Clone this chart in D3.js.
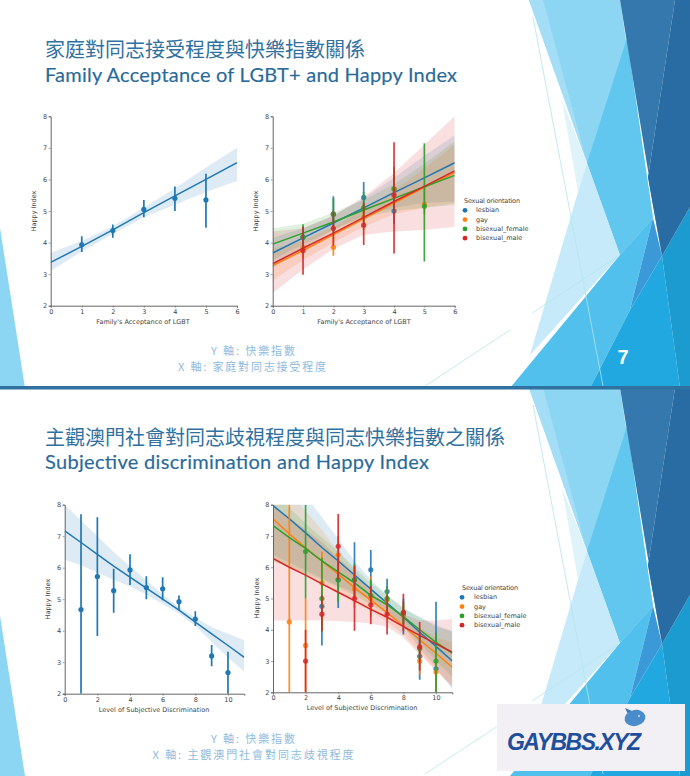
<!DOCTYPE html>
<html>
<head>
<meta charset="utf-8">
<script src="https://d3js.org/d3.v7.min.js"></script>
<style>
body { margin: 0; background: #fff; }
svg { display: block; }
.tick text { font-family: "DejaVu Sans"; font-size: 6.5px; fill: #444; }
.lab { font-family: "DejaVu Sans"; font-size: 6.5px; fill: #444; }
</style>
</head>
<body>
<svg id="chart" width="690" height="776"></svg>
<script>
// chart values
var seriesNames = ["lesbian", "gay", "bisexual_female", "bisexual_male"];
var seriesColors = ["#1f77b4", "#ff7f0e", "#2ca02c", "#d62728"];
var yTicks = [2, 3, 4, 5, 6, 7, 8];

// family acceptance, all respondents
var famX = [1, 2, 3, 4, 5];
var famY = [3.93, 4.38, 5.05, 5.4, 5.35];
var famLo = [3.7, 4.15, 4.8, 5.0, 4.47];
var famHi = [4.2, 4.57, 5.35, 5.78, 6.18];
var famFitX = [0, 1, 2, 3, 4, 5, 6];
var famFit = [3.37, 3.88, 4.4, 4.95, 5.48, 6.0, 6.53];
var famFitLo = [3.1, 3.72, 4.27, 4.8, 5.2, 5.6, 5.95];
var famFitHi = [3.68, 4.05, 4.52, 5.1, 5.72, 6.38, 7.0];

// family acceptance, by orientation
var famHueY = [
    [4.17, 4.9, 5.43, 5.0, null],
    [3.85, 3.85, 4.8, 5.7, 5.22],
    [4.17, 4.9, 5.1, 5.7, 5.15],
    [3.75, 4.45, 4.55, 5.5, null]
];
var famHueLo = [
    [3.9, 4.4, 4.95, 4.6, null],
    [3.5, 3.58, 4.4, 5.2, 4.9],
    [3.8, 4.3, 4.6, 4.9, 3.4],
    [2.98, 3.9, 3.92, 3.65, null]
];
var famHueHi = [
    [4.5, 5.47, 5.92, 5.5, null],
    [4.2, 4.25, 5.25, 6.1, 5.8],
    [4.58, 5.4, 5.6, 6.4, 7.15],
    [4.5, 5.0, 5.25, 7.18, null]
];
var famHueFit = [
    [3.67, 4.15, 4.62, 5.1, 5.58, 6.05, 6.53],
    [3.27, 3.75, 4.25, 4.75, 5.25, 5.75, 6.22],
    [3.95, 4.3, 4.65, 5.03, 5.4, 5.77, 6.13],
    [3.33, 3.82, 4.3, 4.8, 5.3, 5.78, 6.27]
];
var famHueFitLo = [
    [3.2, 3.8, 4.4, 4.85, 5.1, 5.25, 5.3],
    [2.8, 3.45, 4.0, 4.5, 4.9, 5.1, 5.25],
    [3.45, 3.95, 4.4, 4.8, 5.0, 5.1, 5.2],
    [2.4, 3.15, 3.8, 4.25, 4.35, 4.4, 4.5]
];
var famHueFitHi = [
    [4.15, 4.45, 4.85, 5.4, 6.05, 6.75, 7.4],
    [3.8, 4.05, 4.5, 5.05, 5.65, 6.35, 7.1],
    [4.45, 4.6, 4.95, 5.35, 5.85, 6.5, 7.2],
    [4.35, 4.45, 4.85, 5.45, 6.2, 7.1, 8.0]
];

// subjective discrimination, all respondents
var disX = [1, 2, 3, 4, 5, 6, 7, 8, 9, 10];
var disY = [4.67, 5.72, 5.27, 5.93, 5.37, 5.33, 4.92, 4.37, 3.2, 2.67];
var disLo = [2.0, 3.83, 4.57, 5.45, 5.0, 4.97, 4.65, 4.15, 2.87, 2.0];
var disHi = [7.7, 7.6, 5.97, 6.43, 5.73, 5.7, 5.12, 4.62, 3.55, 3.33];
var disFitX = [0, 1, 2, 3, 4, 5, 6, 7, 8, 9, 10, 11];
var disFit = [7.17, 6.8, 6.42, 6.05, 5.7, 5.35, 5.0, 4.65, 4.27, 3.9, 3.53, 3.15];
var disFitLo = [6.25, 6.08, 5.85, 5.62, 5.4, 5.15, 4.85, 4.55, 4.15, 3.65, 3.15, 2.7];
var disFitHi = [8.0, 7.5, 7.0, 6.5, 6.05, 5.6, 5.15, 4.75, 4.42, 4.12, 3.9, 3.7];

// subjective discrimination, by orientation
var disHueY = [
    [null, null, 4.75, 5.6, 5.6, 5.92, 5.22, 4.5, 3.15, 2.75],
    [4.25, 3.5, 5.5, 6.4, 5.3, 5.0, 4.95, 4.45, 3.0, 2.65],
    [null, 6.5, 5.0, 5.6, 5.6, 5.1, 5.0, 4.55, 3.4, 3.0],
    [null, 3.0, 4.5, 6.67, 5.0, 4.8, 4.5, 4.55, 3.45, null]
];
var disHueLo = [
    [null, null, 3.5, 4.7, 5.0, 5.2, 4.8, 3.85, 2.4, 2.0],
    [2.0, 2.0, 4.0, 5.9, 4.7, 4.4, 4.5, 4.1, 2.55, 2.0],
    [null, 5.0, 3.95, 4.9, 5.0, 4.6, 4.6, 4.2, 3.0, 2.0],
    [null, 2.0, 3.95, 5.6, 3.97, 4.18, 3.85, 3.95, 2.7, null]
];
var disHueHi = [
    [null, null, 5.5, 6.3, 6.8, 6.55, 5.63, 5.0, 3.9, 4.9],
    [8.0, 5.0, 6.5, 7.0, 6.0, 5.7, 5.3, 4.8, 3.45, 3.3],
    [null, 8.0, 6.3, 6.3, 6.1, 5.6, 5.4, 4.9, 3.8, 3.9],
    [null, 4.0, 5.1, 7.7, 6.05, 5.4, 5.1, 5.15, 4.25, null]
];
var disHueFit = [
    [7.97, 7.55, 7.1, 6.63, 6.2, 5.75, 5.3, 4.85, 4.4, 3.92, 3.47, 3.0],
    [7.55, 7.07, 6.62, 6.2, 5.78, 5.35, 4.95, 4.55, 4.12, 3.68, 3.25, 2.8],
    [7.33, 6.95, 6.6, 6.2, 5.85, 5.5, 5.1, 4.8, 4.42, 4.0, 3.6, 3.25],
    [6.28, 6.0, 5.75, 5.47, 5.2, 4.93, 4.65, 4.4, 4.1, 3.82, 3.55, 3.28]
];
var disHueFitLo = [
    [6.4, 6.15, 5.9, 5.65, 5.4, 5.2, 4.95, 4.6, 4.1, 3.4, 2.8, 2.1],
    [6.2, 6.0, 5.75, 5.45, 5.15, 4.85, 4.6, 4.25, 3.85, 3.3, 2.7, 2.15],
    [6.2, 6.0, 5.8, 5.6, 5.35, 5.1, 4.8, 4.5, 4.1, 3.6, 3.0, 2.5],
    [4.3, 4.3, 4.3, 4.3, 4.28, 4.25, 4.2, 4.1, 3.75, 3.2, 2.7, 2.2]
];
var disHueFitHi = [
    [9.8, 9.1, 8.3, 7.6, 6.9, 6.2, 5.6, 5.1, 4.7, 4.4, 4.15, 3.95],
    [9.0, 8.4, 7.8, 7.2, 6.5, 5.9, 5.35, 4.85, 4.4, 4.05, 3.75, 3.6],
    [8.4, 7.9, 7.4, 6.95, 6.5, 6.0, 5.5, 5.1, 4.7, 4.4, 4.1, 3.95],
    [8.0, 7.6, 7.2, 6.8, 6.3, 5.8, 5.2, 4.8, 4.5, 4.3, 4.3, 4.35]
];

var svg = d3.select("#chart");
var defs = svg.append("defs");
var clipCount = 0;

// slide background, one slide is 388px high
var bgShapes = [
    { fill: "#8dd6f3", pts: [[529, 0], [620, 0], [653, 218], [620, 255]] },
    { fill: "#a3def6", pts: [[529, 0], [543, 0], [587, 163]] },
    { fill: "#62c7ee", pts: [[627, 38], [653, 218], [620, 255], [587, 163]] },
    { fill: "#dff3fb", pts: [[562, 100], [587, 163], [578, 192]] },
    { fill: "#c6eaf9", pts: [[578, 192], [587, 163], [620, 255], [530, 355]] },
    { fill: "#51c0ec", pts: [[510, 388], [620, 255], [653, 218], [630, 310], [590, 388]] },
    { fill: "#3b99d8", pts: [[630, 310], [653, 218], [662, 256]] },
    { fill: "#21a8e0", pts: [[590, 388], [630, 310], [662, 256], [680, 388]] },
    { fill: "#1b9bd0", pts: [[662, 256], [690, 207], [690, 388], [680, 388]] },
    { fill: "#3478ad", pts: [[620, 0], [675, 0], [648, 177], [662, 256]] },
    { fill: "#286ca3", pts: [[675, 0], [690, 0], [690, 207], [662, 256], [648, 177]] },
    { fill: "#8dd6f3", pts: [[0, 228], [25, 388], [0, 388]] }
];
var bgLines = [
    [[533, 17], [603, 386]],
    [[532, 313], [620, 255]],
    [[425, 386], [510, 330]]
];

function drawSlide(top) {
    var g = svg.append("g").attr("transform", "translate(0," + top + ")");
    g.selectAll("polygon").data(bgShapes).join("polygon")
        .attr("points", d => d.pts.join(" "))
        .attr("fill", d => d.fill);
    g.selectAll("line").data(bgLines).join("line")
        .attr("x1", d => d[0][0]).attr("y1", d => d[0][1])
        .attr("x2", d => d[1][0]).attr("y2", d => d[1][1])
        .attr("stroke", "#b5e4ec").attr("stroke-width", 0.8);
}

function drawAxes(g, x, y, xTicks, xLabel, xLabelPos, yLabelPos) {
    var xAxis = d3.axisBottom(x).tickValues(xTicks).tickSize(2).tickPadding(1.5).tickFormat(d3.format("d"));
    var yAxis = d3.axisLeft(y).tickValues(yTicks).tickSize(2).tickPadding(1.5).tickFormat(d3.format("d"));
    var gx = g.append("g").attr("transform", "translate(0," + y.range()[0] + ")").call(xAxis);
    var gy = g.append("g").attr("transform", "translate(" + x.range()[0] + ",0)").call(yAxis);
    [gx, gy].forEach(a => {
        a.selectAll(".domain").attr("stroke", "#666").attr("stroke-width", 1);
        a.selectAll("line").attr("stroke", "#666").attr("stroke-width", 0.6);
    });
    g.append("text").attr("class", "lab").attr("x", xLabelPos[0]).attr("y", xLabelPos[1])
        .attr("text-anchor", "middle").text(xLabel);
    g.append("text").attr("class", "lab").attr("text-anchor", "middle")
        .attr("transform", "translate(" + yLabelPos[0] + "," + yLabelPos[1] + ") rotate(-90)")
        .text("Happy Index");
}

// bands go in their own pass so that no band covers a line of another series
function clipFor(x, y) {
    var clipId = "clip" + (clipCount++);
    defs.append("clipPath").attr("id", clipId).append("rect")
        .attr("x", x.range()[0]).attr("y", y.range()[1])
        .attr("width", x.range()[1] - x.range()[0]).attr("height", y.range()[0] - y.range()[1]);
    return "url(#" + clipId + ")";
}

function drawBand(g, x, y, color, fitX, fit, fitLo, fitHi) {
    var band = d3.area().x((d, i) => x(fitX[i])).y0((d, i) => y(fitLo[i])).y1((d, i) => y(fitHi[i]));
    g.append("path").datum(fit).attr("d", band).attr("fill", color).attr("fill-opacity", 0.15)
        .attr("clip-path", clipFor(x, y));
}

function drawMarks(g, x, y, color, fitX, fit, ptX, ptY, ptLo, ptHi, hue) {
    var line = d3.line().x((d, i) => x(fitX[i])).y(d => y(d));
    var c = g.append("g").attr("clip-path", clipFor(x, y));
    c.append("path").datum(fit).attr("d", line).attr("fill", "none").attr("stroke", color).attr("stroke-width", 1.5);

    var rows = ptX.map((v, i) => ({ x: v, y: ptY[i], lo: ptLo[i], hi: ptHi[i] })).filter(d => d.y !== null);
    c.selectAll("line.err").data(rows).join("line").attr("class", "err")
        .attr("x1", d => x(d.x)).attr("x2", d => x(d.x))
        .attr("y1", d => y(d.lo)).attr("y2", d => y(d.hi))
        .attr("stroke", color).attr("stroke-width", 1.7).attr("stroke-opacity", hue ? 0.9 : 1);
    c.selectAll("circle").data(rows).join("circle")
        .attr("cx", d => x(d.x)).attr("cy", d => y(d.y)).attr("r", 2.6)
        .attr("fill", color).attr("fill-opacity", hue ? 0.85 : 1);
}

function drawHuePanel(g, x, y, fitX, fits, fitLos, fitHis, ptX, ptYs, ptLos, ptHis) {
    seriesNames.forEach((name, i) => drawBand(g, x, y, seriesColors[i], fitX, fits[i], fitLos[i], fitHis[i]));
    seriesNames.forEach((name, i) => drawMarks(g, x, y, seriesColors[i], fitX, fits[i], ptX, ptYs[i], ptLos[i], ptHis[i], true));
}

function drawLegend(g, left, top, step, markerX, labelX) {
    g.append("text").attr("class", "lab").attr("x", left).attr("y", top).attr("textLength", 56).text("Sexual orientation");
    seriesNames.forEach((name, i) => {
        var yy = top + step * (i + 1);
        g.append("circle").attr("cx", markerX).attr("cy", yy - 2).attr("r", 2.4).attr("fill", seriesColors[i]);
        g.append("text").attr("class", "lab").attr("x", labelX).attr("y", yy).text(name);
    });
}

function drawText(txt, x, y, size, color, anchor, family, len) {
    var t = svg.append("text").attr("x", x).attr("y", y).attr("font-size", size)
        .attr("fill", color).attr("text-anchor", anchor).attr("font-family", family).text(txt);
    if (len) t.attr("textLength", len).attr("lengthAdjust", "spacing");
    return t;
}

drawSlide(0);
drawSlide(388);

// bar between the slides
svg.append("rect").attr("x", 0).attr("y", 386).attr("width", 690).attr("height", 3.5).attr("fill", "#2f719f");

var titleColor = "#2f719f";
var titleDark = "#296a99";
var noteColor = "#8fbbde";
var cjk = '"Noto Sans CJK TC"';
drawText("家庭對同志接受程度與快樂指數關係", 45, 57, 20, titleColor, "start", cjk);
drawText("Family Acceptance of LGBT+ and Happy Index", 45, 82, 20, titleDark, "start", "Lato", 412)
    .attr("stroke", titleDark).attr("stroke-width", 0.15);
drawText("主觀澳門社會對同志歧視程度與同志快樂指數之關係", 45, 445, 20, titleColor, "start", cjk);
drawText("Subjective discrimination and Happy Index", 45, 469, 20, titleDark, "start", "Lato", 384)
    .attr("stroke", titleDark).attr("stroke-width", 0.15);

// smaller glyphs, stretched to the width the notes have in the picture
drawText("Y 軸: 快樂指數", 253, 355, 11, noteColor, "middle", cjk, 84);
drawText("X 軸: 家庭對同志接受程度", 252, 371, 11, noteColor, "middle", cjk, 148);
drawText("Y 軸: 快樂指數", 253, 743, 11, noteColor, "middle", cjk, 84);
drawText("X 軸: 主觀澳門社會對同志歧視程度", 253, 759, 11, noteColor, "middle", cjk, 201);

drawText("7", 623, 364, 20, "#fff", "middle", "Liberation Sans").attr("font-weight", "bold");

// panel 1
var g1 = svg.append("g");
var x1 = d3.scaleLinear().domain([0, 6]).range([50.7, 237]);
var y1 = d3.scaleLinear().domain([2, 8]).range([305.7, 116.3]);
drawBand(g1, x1, y1, seriesColors[0], famFitX, famFit, famFitLo, famFitHi);
drawMarks(g1, x1, y1, seriesColors[0], famFitX, famFit, famX, famY, famLo, famHi, false);
drawAxes(g1, x1, y1, famFitX, "Family's Acceptance of LGBT", [143, 323.5], [36, 211]);

// panel 2
var g2 = svg.append("g");
var x2 = d3.scaleLinear().domain([0, 6]).range([272.7, 454.7]);
drawHuePanel(g2, x2, y1, famFitX, famHueFit, famHueFitLo, famHueFitHi, famX, famHueY, famHueLo, famHueHi);
drawAxes(g2, x2, y1, famFitX, "Family's Acceptance of LGBT", [364, 323.5], [258, 211]);
drawLegend(g2, 464, 203, 9.3, 465, 476);

// panel 3
var g3 = svg.append("g");
var x3 = d3.scaleLinear().domain([0, 11]).range([64.7, 244.3]);
var y3 = d3.scaleLinear().domain([2, 8]).range([693.7, 504.7]);
drawBand(g3, x3, y3, seriesColors[0], disFitX, disFit, disFitLo, disFitHi);
drawMarks(g3, x3, y3, seriesColors[0], disFitX, disFit, disX, disY, disLo, disHi, false);
drawAxes(g3, x3, y3, [0, 2, 4, 6, 8, 10], "Level of Subjective Discrimination", [154, 712], [50, 599]);

// panel 4
var g4 = svg.append("g");
var x4 = d3.scaleLinear().domain([0, 11]).range([273, 452.3]);
var y4 = d3.scaleLinear().domain([2, 8]).range([692.3, 504.7]);
drawHuePanel(g4, x4, y4, disFitX, disHueFit, disHueFitLo, disHueFitHi, disX, disHueY, disHueLo, disHueHi);
drawAxes(g4, x4, y4, [0, 2, 4, 6, 8, 10], "Level of Subjective Discrimination", [362, 710], [259, 598]);
drawLegend(g4, 462, 590, 9.3, 462, 474);

// watermark
svg.append("rect").attr("x", 497).attr("y", 704).attr("width", 188).attr("height", 67).attr("fill", "#f3f0f5");
svg.append("polygon").attr("points", "625,708 632,711 629,716").attr("fill", "#3f78b8");
svg.append("ellipse").attr("cx", 635).attr("cy", 718).attr("rx", 10.5).attr("ry", 8)
    .attr("transform", "rotate(-12 635 718)").attr("fill", "#4a8ccb");
svg.append("circle").attr("cx", 639).attr("cy", 716).attr("r", 0.9).attr("fill", "#dfe9f5");
drawText("GAYBBS.XYZ", 507, 750, 23, "#1f4f9c", "start", "Liberation Sans", 134)
    .attr("font-weight", "bold").attr("font-style", "italic");
</script>
</body>
</html>
